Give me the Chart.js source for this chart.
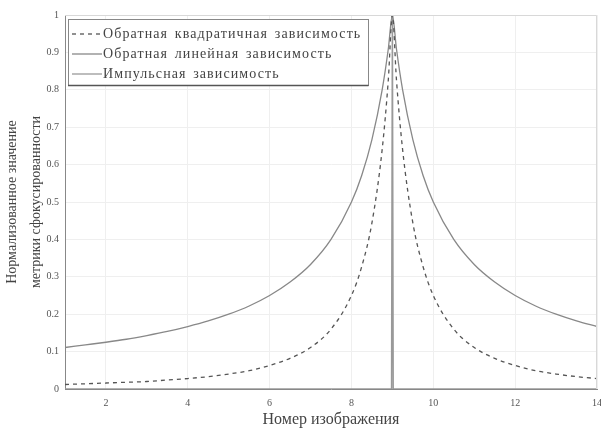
<!DOCTYPE html>
<html lang="ru">
  <head>
    <meta charset="UTF-8" />
    <title>Нормализованное значение метрики</title>
    <script src="https://cdn.jsdelivr.net/npm/chart.js"></script>
    <style>
      html, body {
        margin: 0;
        padding: 0;
        background: #fff;
      }
      .container {
        width: 601px;
        height: 429px;
      }
    </style>
  </head>
  <body>
    <div class="container">
      <canvas id="grafico" width="601" height="429"></canvas>
    </div>

    <script>
      // номера изображений (ось X)
      const xNomera = [1, 1.5, 2, 2.5, 3, 3.5, 4, 4.5, 5, 5.5, 6, 6.5, 7, 7.5, 8, 8.25, 8.5, 8.75, 8.9, 9,
        9.1, 9.25, 9.5, 9.75, 10, 10.5, 11, 11.5, 12, 12.5, 13, 13.5, 14];
      // обратная квадратичная зависимость
      const kvadrat = [0.012, 0.014, 0.016, 0.018, 0.02, 0.024, 0.028, 0.033, 0.04, 0.049, 0.063, 0.082,
        0.111, 0.16, 0.25, 0.327, 0.444, 0.64, 0.826, 1,
        0.826, 0.64, 0.444, 0.327, 0.25, 0.16, 0.111, 0.082, 0.063, 0.049, 0.04, 0.033, 0.028];
      // обратная линейная зависимость
      const lineinaya = [0.111, 0.118, 0.125, 0.133, 0.143, 0.154, 0.167, 0.182, 0.2, 0.222, 0.25, 0.286,
        0.333, 0.4, 0.5, 0.571, 0.667, 0.8, 0.909, 1,
        0.909, 0.8, 0.667, 0.571, 0.5, 0.4, 0.333, 0.286, 0.25, 0.222, 0.2, 0.182, 0.167];
      // импульсная зависимость
      const impulsX = [1, 8.98, 9, 9.02, 14];
      const impuls = [0, 0, 1, 0, 0];

      const xTicks = [2, 4, 6, 8, 10, 12, 14];
      const yTicks = [0, 0.1, 0.2, 0.3, 0.4, 0.5, 0.6, 0.7, 0.8, 0.9, 1];

      const nazvaniya = [
        "Обратная квадратичная зависимость",
        "Обратная линейная зависимость",
        "Импульсная зависимость",
      ];

      const serif = "'Liberation Serif', 'DejaVu Serif', serif";

      const pontos = (xs, ys) => xs.map((x, i) => ({ x: x, y: ys[i] }));

      // легенда внутри области графика
      const legenda = {
        id: "legenda",
        afterDraw(chart) {
          const ctx = chart.ctx;
          const a = chart.chartArea;
          ctx.save();
          // рамка вокруг области
          ctx.strokeStyle = "#d8d8d8";
          ctx.lineWidth = 1;
          ctx.beginPath();
          ctx.moveTo(a.left, a.top + 0.5);
          ctx.lineTo(a.right - 0.5, a.top + 0.5);
          ctx.lineTo(a.right - 0.5, a.bottom);
          ctx.stroke();

          const bx = a.left + 3, by = a.top + 4, bw = 300, bh = 66;
          ctx.fillStyle = "#fff";
          ctx.fillRect(bx, by, bw, bh);
          ctx.strokeStyle = "#888";
          ctx.strokeRect(bx + 0.5, by + 0.5, bw, bh);
          ctx.strokeStyle = "#555";
          ctx.lineWidth = 1.5;
          ctx.beginPath();
          ctx.moveTo(bx, by + bh + 0.5);
          ctx.lineTo(bx + bw + 0.5, by + bh + 0.5);
          ctx.stroke();

          ctx.font = "14px " + serif;
          ctx.letterSpacing = "1.1px";
          ctx.wordSpacing = "2px";
          ctx.textBaseline = "middle";
          chart.data.datasets.forEach((ds, i) => {
            const yy = by + 15 + i * 20;
            ctx.strokeStyle = ds.borderColor;
            ctx.lineWidth = 1.3;
            ctx.setLineDash(ds.borderDash || []);
            ctx.beginPath();
            ctx.moveTo(bx + 4, yy);
            ctx.lineTo(bx + 34, yy);
            ctx.stroke();
            ctx.setLineDash([]);
            ctx.fillStyle = "#444";
            ctx.fillText(ds.label, bx + 35, yy);
          });
          ctx.restore();
        },
      };

      const ctx = document.getElementById("grafico").getContext("2d");
      new Chart(ctx, {
        type: "line",
        data: {
          datasets: [
            {
              label: nazvaniya[0],
              data: pontos(xNomera, kvadrat),
              borderColor: "#555",
              borderWidth: 1.3,
              borderDash: [4, 4],
              pointRadius: 0,
              cubicInterpolationMode: "monotone",
            },
            {
              label: nazvaniya[1],
              data: pontos(xNomera, lineinaya),
              borderColor: "#888",
              borderWidth: 1.3,
              pointRadius: 0,
              cubicInterpolationMode: "monotone",
            },
            {
              label: nazvaniya[2],
              data: pontos(impulsX, impuls),
              borderColor: "#999",
              borderWidth: 1.5,
              pointRadius: 0,
            },
          ],
        },
        options: {
          responsive: false,
          animation: false,
          layout: { padding: { top: 15, right: 4, left: 0, bottom: 0 } },
          plugins: {
            legend: { display: false },
            tooltip: { enabled: false },
          },
          scales: {
            x: {
              type: "linear",
              min: 1,
              max: 14,
              afterBuildTicks: (s) => {
                s.ticks = xTicks.map((v) => ({ value: v }));
              },
              afterFit: (s) => {
                s.height = 40;
                s.paddingLeft = 0;
                s.paddingRight = 0;
              },
              grid: { color: "#efefef", drawTicks: false },
              border: { color: "#888" },
              ticks: {
                padding: 8,
                color: "#555",
                font: { family: serif, size: 10 },
                maxRotation: 0,
              },
              title: {
                display: true,
                text: "Номер изображения",
                color: "#444",
                font: { family: serif, size: 16 },
                padding: { top: 0, bottom: 0 },
              },
            },
            y: {
              type: "linear",
              min: 0,
              max: 1,
              afterBuildTicks: (s) => {
                s.ticks = yTicks.map((v) => ({ value: v }));
              },
              afterFit: (s) => {
                s.width = 65;
                s.paddingTop = 0;
                s.paddingBottom = 0;
              },
              grid: { color: "#efefef", drawTicks: false },
              border: { color: "#888" },
              ticks: {
                padding: 6,
                color: "#555",
                font: { family: serif, size: 10 },
                callback: (v) => String(v),
              },
              title: {
                display: true,
                text: ["Нормализованное значение", "метрики сфокусированности"],
                color: "#444",
                font: { family: serif, size: 14, lineHeight: 1.75 },
                padding: { top: 0, bottom: 0 },
              },
            },
          },
        },
        plugins: [legenda],
      });
    </script>
  </body>
</html>
